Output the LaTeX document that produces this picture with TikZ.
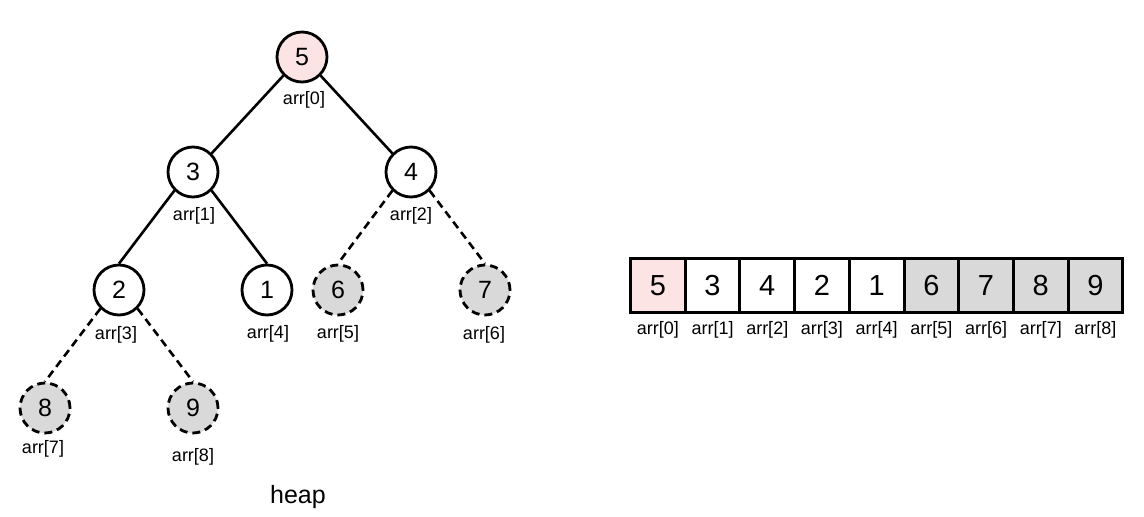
\documentclass[tikz,border=0pt]{standalone}
\usepackage{fontspec}
\setmainfont{Liberation Sans}
\definecolor{pinkfill}{RGB}{253,228,228}
\definecolor{grayfill}{RGB}{217,217,217}
\begin{document}
\begin{tikzpicture}[x=1pt,y=-1pt,
  hnode/.style={circle,draw=black,line width=2.8pt,minimum size=50pt,inner sep=0pt,font=\fontsize{25}{25}\selectfont,fill=white},
  ghost/.style={hnode,dash pattern=on 8pt off 5pt,fill=grayfill},
  rootn/.style={hnode,fill=pinkfill},
  idx/.style={font=\fontsize{18}{18}\selectfont,inner sep=0pt},
  edge/.style={line width=2.6pt},
  dedge/.style={line width=2.6pt,dash pattern=on 8pt off 5pt},
  cell/.style={draw=black,line width=3pt,minimum width=54.7pt,minimum height=54pt,inner sep=0pt,font=\fontsize{29}{29}\selectfont,anchor=north west},
]
\useasboundingbox (0,0) rectangle (1144,517);
% tree nodes
\node[rootn] (n5) at (302,57) {5};
\node[hnode] (n3) at (193,172) {3};
\node[hnode] (n4) at (411,172) {4};
\node[hnode] (n2) at (119,290) {2};
\node[hnode] (n1) at (267,290) {1};
\node[ghost] (n6) at (338,290) {6};
\node[ghost] (n7) at (485,290) {7};
\node[ghost] (n8) at (45,408) {8};
\node[ghost] (n9) at (193,408) {9};
% edges
\draw[edge] (n5.south west) -- (n3.north east);
\draw[edge] (n5.south east) -- (n4.north west);
\draw[edge] (n3.south west) -- (n2.north);
\draw[edge] (n3.south east) -- (n1.north);
\draw[dedge] (n4.south west) -- (n6.north);
\draw[dedge] (n4.south east) -- (n7.north);
\draw[dedge] (n2.south west) -- (n8.north);
\draw[dedge] (n2.south east) -- (n9.north);
% tree labels
\node[idx] (l0) at (304,100) {arr[0]};
\node[idx] (l1) at (194,216) {arr[1]};
\node[idx] (l2) at (411,216) {arr[2]};
\node[idx] (l3) at (116,335) {arr[3]};
\node[idx] (l4) at (268,334) {arr[4]};
\node[idx] (l5) at (338,334) {arr[5]};
\node[idx] (l6) at (484,335) {arr[6]};
\node[idx] (l7) at (43,449) {arr[7]};
\node[idx] (l8) at (193,457) {arr[8]};
\node[font=\fontsize{25}{25}\selectfont,inner sep=0pt] (heap) at (298,497) {heap};
% array
\node[cell,fill=pinkfill] (c0) at (629.0,257) {5};
\node[cell,fill=white] (c1) at (683.7,257) {3};
\node[cell,fill=white] (c2) at (738.4,257) {4};
\node[cell,fill=white] (c3) at (793.1,257) {2};
\node[cell,fill=white] (c4) at (847.8,257) {1};
\node[cell,fill=grayfill] (c5) at (902.5,257) {6};
\node[cell,fill=grayfill] (c6) at (957.2,257) {7};
\node[cell,fill=grayfill] (c7) at (1011.9,257) {8};
\node[cell,fill=grayfill] (c8) at (1066.6,257) {9};
\foreach \i in {0,...,8} {
  \node[idx,anchor=center] (a\i) at ([yshift=-16pt]c\i.south) {arr[\i]};
}
\end{tikzpicture}
\end{document}
